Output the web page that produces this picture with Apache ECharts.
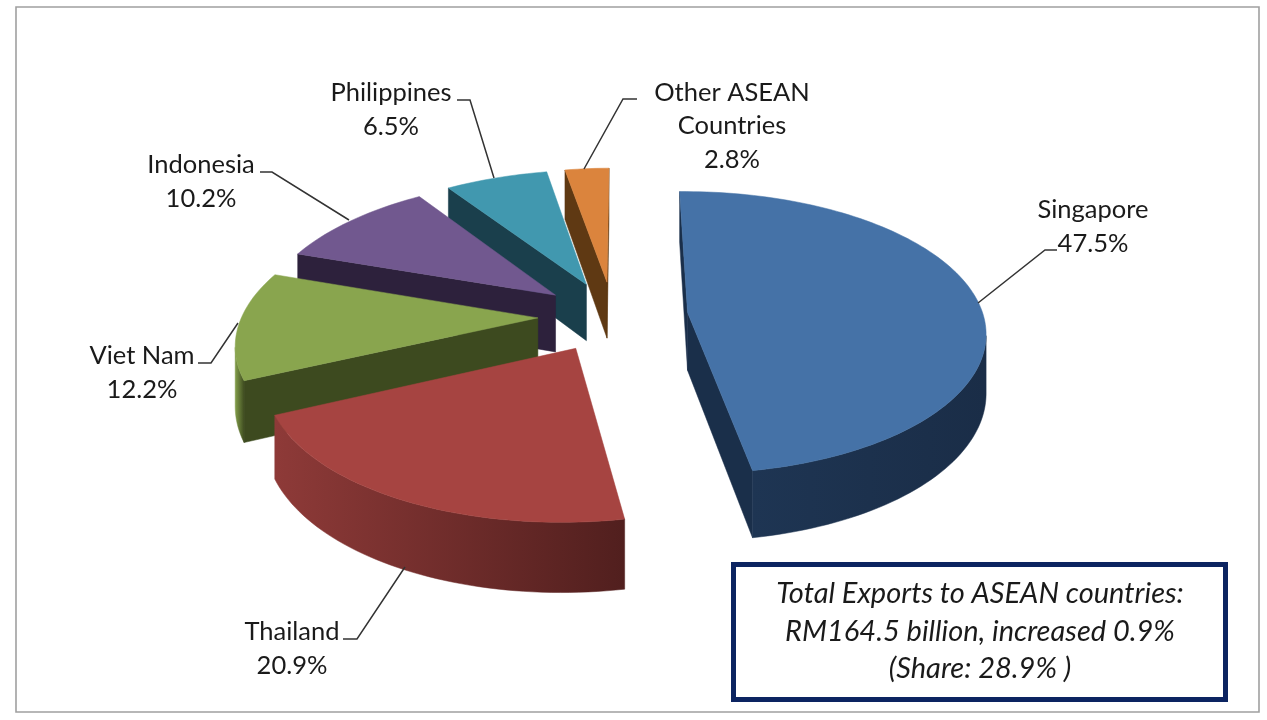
<!DOCTYPE html>
<html><head><meta charset="utf-8">
<script src="https://cdn.jsdelivr.net/npm/echarts@6/dist/echarts.min.js"></script>
<style>html,body{margin:0;padding:0;background:#fff}#c{width:1267px;height:720px}</style>
</head><body><div id="c"></div>
<script>
const categories = ['Singapore','Thailand','Viet Nam','Indonesia','Philippines','Other ASEAN Countries'];
const labelNames = ['Singapore','Thailand','Viet Nam','Indonesia','Philippines','Other ASEAN\nCountries'];
const shares = [47.5,20.9,12.2,10.2,6.5,2.8];
const noteLines = ['Total Exports to ASEAN countries:','RM164.5 billion, increased 0.9%','(Share: 28.9% )'];

const topColors = ['#4572a7','#a64441','#89a54e','#71588f','#4198af','#db843d'];
const edgeColors = ['#1a2f4a','#511f1e','#3d4a1f','#2d213c','#1a3f4c','#5f3913'];
const rimGradients = [
  ['#1e3553','#1a2d47'],['#8e3a38','#511f1e'],['#84a04b','#3d4a1f'],
  ['#2d213c','#2d213c'],['#1a3f4c','#1a3f4c'],['#5f3913','#5f3913']
];
const labelCenters = [[1093,227],[292,649],[142,373],[201,182],[391,110],[732,126]];
const leaders = [
  [[1057,250],[1045,250],[978,303]],
  [[343,639],[357,639],[405,567]],
  [[198,363],[211,363],[238,323]],
  [[260,172],[272,172],[349,220]],
  [[457,100],[470,100],[494,178]],
  [[637,99],[623,99],[584,169]]
];

const view = {cx:613, cy:316, vanishX:660, radius:296, explode:75, tilt:0.47, persp:0.00048, depth:58, start:-1};
const total = shares.reduce((a,b)=>a+b,0);
const starts = []; let acc = view.start;
shares.forEach(v=>{starts.push(acc); acc += v/total*360;});
const rad = d=>d*Math.PI/180;
function project(X,Y,Z){
  const s = 1/(1-view.persp*Y);
  return [view.vanishX+(view.cx-view.vanishX+X)*s, view.cy+Y*view.tilt*s+Z*s];
}
function poly(points, fill, z2){
  return {type:'polygon', z2, shape:{points}, style:{fill, stroke:fill, lineWidth:0.5}};
}
function renderSlice(params, api){
  const i = api.value(0), share = api.value(1);
  const a0 = starts[i], a1 = a0+share/total*360, mid = rad((a0+a1)/2);
  const X0 = view.explode*Math.sin(mid), Y0 = -view.explode*Math.cos(mid);
  const rim = [];
  const n = Math.max(4, Math.ceil((a1-a0)/1.5));
  for(let k=0;k<=n;k++){
    const a = rad(a0+(a1-a0)*k/n);
    rim.push([X0+view.radius*Math.sin(a), Y0-view.radius*Math.cos(a)]);
  }
  const tipW = [X0,Y0];
  const top = w=>project(w[0],w[1],0), bot = w=>project(w[0],w[1],view.depth);
  const children = [];
  const wall = (A,B)=>{
    if(top(B)[0]-top(A)[0] < 0) children.push(poly([top(A),top(B),bot(B),bot(A)], edgeColors[i], 1));
  };
  wall(tipW, rim[0]);
  wall(rim[rim.length-1], tipW);
  const run = [];
  for(let k=0;k<n;k++){
    if(top(rim[k+1])[0]-top(rim[k])[0] < 0){ if(!run.length) run.push(rim[k]); run.push(rim[k+1]); }
  }
  if(run.length){
    const pts = run.map(top).concat(run.slice().reverse().map(bot));
    children.push(poly(pts, {type:'linear',x:0,y:0,x2:1,y2:0,colorStops:[
      {offset:0,color:rimGradients[i][0]},{offset:1,color:rimGradients[i][1]}]}, 2));
  }
  children.push(poly([top(tipW)].concat(rim.map(top)), topColors[i], 3));
  return {type:'group', children};
}
const order = shares.map((v,i)=>i).sort((p,q)=>{
  const m = j=>rad(starts[j]+shares[j]/total*180);
  return Math.cos(m(q))-Math.cos(m(p));
});
const textStyle = {fontFamily:'Lato', fontSize:25.5, fill:'#1a1a1a'};
const graphics = [
  {type:'rect', z:0, shape:{x:16,y:7,width:1243,height:705}, style:{fill:'#fff',stroke:'#a0a0a0',lineWidth:1.6}},
  {type:'rect', z:20, shape:{x:733.5,y:564.5,width:492,height:135}, style:{fill:'#fff',stroke:'#0c2461',lineWidth:5}},
];
noteLines.forEach((t,k)=>graphics.push({type:'text', z:21, x:980, y:594+k*37.5,
  style:{text:t, fontFamily:'Lato', fontStyle:'italic', fontSize:29, fill:'#1a1a1a', align:'center', verticalAlign:'middle'}}));
categories.forEach((c,i)=>{
  graphics.push({type:'polyline', z:10, shape:{points:leaders[i]}, style:{fill:null,stroke:'#333',lineWidth:1.5}});
  graphics.push({type:'text', z:11, x:labelCenters[i][0], y:labelCenters[i][1],
    style:Object.assign({}, textStyle, {text:labelNames[i]+'\n'+shares[i].toFixed(1)+'%', align:'center', verticalAlign:'middle', lineHeight:33.5})});
});
const chart = echarts.init(document.getElementById('c'), null, {renderer:'canvas'});
chart.setOption({
  animation:false,
  backgroundColor:'#ffffff',
  graphic:graphics,
  series:[{
    type:'custom', coordinateSystem:'none', z:5, silent:true,
    renderItem:renderSlice,
    encode:{value:1},
    data:order.map(i=>({name:categories[i], value:[i,shares[i]]}))
  }]
});
</script></body></html>
